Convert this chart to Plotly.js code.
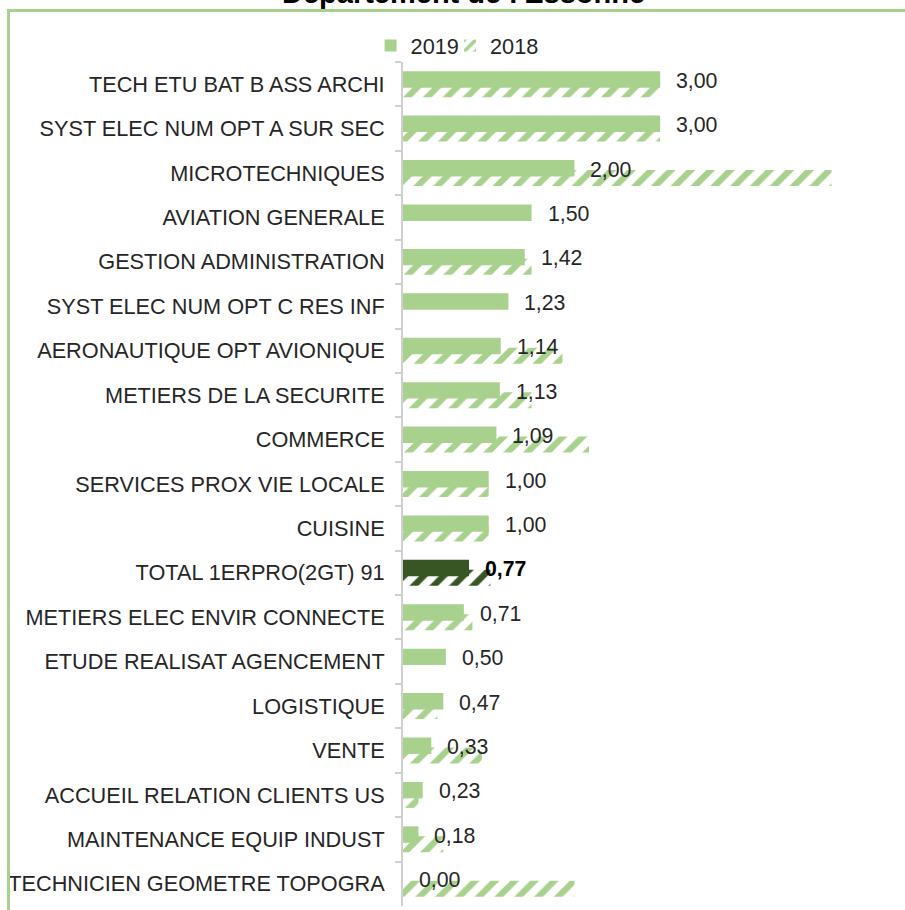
<!DOCTYPE html>
<html>
<head>
<meta charset="utf-8">
<script src="https://cdn.plot.ly/plotly-3.0.1.min.js"></script>
<style>
  html, body { margin: 0; padding: 0; background: #ffffff; overflow: hidden; }
  #chart { position: absolute; left: 0; top: 0; width: 905px; height: 910px; }
  #frame { position: absolute; left: 7px; top: 9px; width: 1200px; height: 1200px;
           border-top: 3px solid #a9d18e; border-left: 3px solid #a9d18e; pointer-events: none; }
</style>
</head>
<body>
<div id="chart"></div>
<div id="frame"></div>
<script>
const titleText = "Département de l'Essonne";
const categories = [
  "TECH ETU BAT B ASS ARCHI",
  "SYST ELEC NUM OPT A SUR SEC",
  "MICROTECHNIQUES",
  "AVIATION GENERALE",
  "GESTION ADMINISTRATION",
  "SYST ELEC NUM OPT C RES INF",
  "AERONAUTIQUE OPT AVIONIQUE",
  "METIERS DE LA SECURITE",
  "COMMERCE",
  "SERVICES PROX VIE LOCALE",
  "CUISINE",
  "TOTAL 1ERPRO(2GT) 91",
  "METIERS ELEC ENVIR CONNECTE",
  "ETUDE REALISAT AGENCEMENT",
  "LOGISTIQUE",
  "VENTE",
  "ACCUEIL RELATION CLIENTS US",
  "MAINTENANCE EQUIP INDUST",
  "TECHNICIEN GEOMETRE TOPOGRA"
];
const values2019 = [3.00, 3.00, 2.00, 1.50, 1.42, 1.23, 1.14, 1.13, 1.09, 1.00, 1.00, 0.77, 0.71, 0.50, 0.47, 0.33, 0.23, 0.18, 0.00];
const values2018 = [3.00, 3.00, 5.00, null, 1.50, null, 1.86, 1.50, 2.17, 1.00, 1.00, 1.02, 0.81, null, 0.40, 0.92, 0.18, 0.47, 2.00];
const seriesNames = ["2019", "2018"];
const highlightCategory = "TOTAL 1ERPRO(2GT) 91";

const lightGreen = "#a9d18e";
const darkGreen = "#375623";
const textColor = "#262626";
const fontFamily = "Arial, 'Liberation Sans', sans-serif";

const barColors = categories.map(c => c === highlightCategory ? darkGreen : lightGreen);

const trace2018 = {
  type: "bar",
  orientation: "h",
  name: seriesNames[1],
  y: categories,
  x: values2018,
  offset: -0.068,
  width: 0.36,
  legend: "legend2",
  marker: {
    color: barColors,
    line: { width: 0 },
    pattern: { shape: "/", fillmode: "replace", bgcolor: "rgba(255,255,255,0)", size: 14, solidity: 0.45 }
  },
  hoverinfo: "skip"
};

const trace2019 = {
  type: "bar",
  orientation: "h",
  name: seriesNames[0],
  y: categories,
  x: values2019,
  offset: -0.293,
  width: 0.37,
  legend: "legend",
  marker: { color: barColors, line: { width: 0 } },
  hoverinfo: "skip"
};

const labelAnnotations = categories.map((c, i) => ({
  x: values2019[i],
  y: c,
  xref: "x",
  yref: "y",
  text: c === highlightCategory
    ? "<b>" + values2019[i].toFixed(2).replace(".", ",") + "</b>"
    : values2019[i].toFixed(2).replace(".", ","),
  showarrow: false,
  xanchor: "left",
  yanchor: "middle",
  xshift: 14,
  yshift: 3.5,
  font: { family: fontFamily, size: 21.3, color: c === highlightCategory ? "#000000" : textColor }
}));

const titleAnnotation = {
  x: 0.125,
  y: 1.0605,
  xref: "paper",
  yref: "paper",
  text: "<b>" + titleText + "</b>",
  showarrow: false,
  xanchor: "center",
  yanchor: "bottom",
  font: { family: fontFamily, size: 29, color: "#000000" }
};

const legendCommon = {
  orientation: "h",
  xanchor: "left",
  y: 1.019,
  yanchor: "middle",
  font: { family: fontFamily, size: 21.7, color: textColor },
  itemwidth: 30,
  bgcolor: "rgba(0,0,0,0)"
};

const layout = {
  width: 905,
  height: 910,
  margin: { l: 403, r: 22.3, t: 62, b: 4.4, pad: 0 },
  paper_bgcolor: "rgba(0,0,0,0)",
  plot_bgcolor: "rgba(0,0,0,0)",
  barmode: "overlay",
  showlegend: true,
  legend: Object.assign({}, legendCommon, { x: -0.0675 }),
  legend2: Object.assign({}, legendCommon, { x: 0.098 }),
  xaxis: {
    range: [0, 5.6],
    visible: false,
    showgrid: false,
    zeroline: false,
    fixedrange: true
  },
  yaxis: {
    type: "category",
    range: [categories.length - 0.5, -0.5],
    tickson: "boundaries",
    ticks: "outside",
    ticklen: 6,
    tickwidth: 2,
    tickcolor: "#d0d0d0",
    showline: true,
    linecolor: "#d0d0d0",
    linewidth: 2,
    showgrid: false,
    zeroline: false,
    ticklabelstandoff: 12,
    tickfont: { family: fontFamily, size: 21.7, color: textColor },
    fixedrange: true
  },
  annotations: [titleAnnotation].concat(labelAnnotations),
  font: { family: fontFamily, color: textColor }
};

Plotly.newPlot("chart", [trace2018, trace2019], layout, { displayModeBar: false, staticPlot: true });
</script>
</body>
</html>
